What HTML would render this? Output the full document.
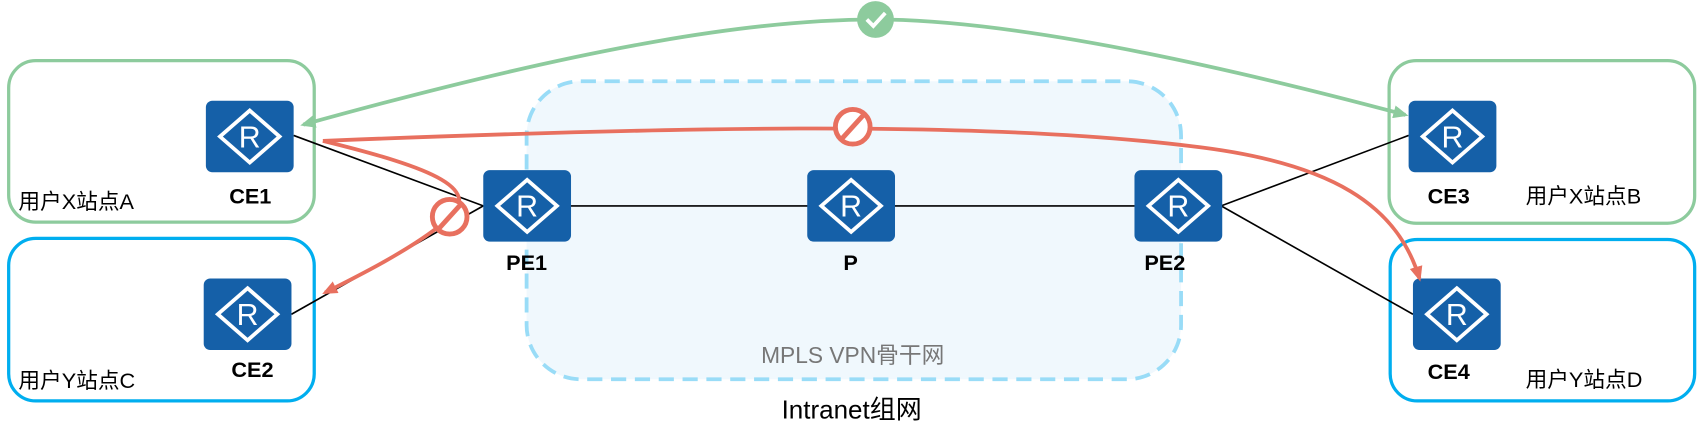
<!DOCTYPE html>
<html><head><meta charset="utf-8"><style>
html,body{margin:0;padding:0;background:#fff;}
svg{display:block;}
text{font-family:"Liberation Sans","Noto Sans CJK SC",sans-serif;}
.lb{font-weight:bold;font-size:20px;fill:#000;text-anchor:middle;}
.st{font-size:20px;fill:#000;}
</style></head><body>
<svg width="1699" height="446" viewBox="0 0 1568 411.6" preserveAspectRatio="none" xmlns="http://www.w3.org/2000/svg">
<defs>
<g id="r"><rect x="0" y="0" width="81" height="66" rx="6" fill="#1560a8"/>
<polygon points="40.5,9 68,33 40.5,57 13,33" fill="none" stroke="#fff" stroke-width="3.5"/>
<text x="40.5" y="43" font-size="28" fill="#fff" text-anchor="middle" style="font-family:'Liberation Sans',sans-serif">R</text></g>
<marker id="ag" markerWidth="14" markerHeight="12" refX="11" refY="6" orient="auto-start-reverse" markerUnits="userSpaceOnUse" viewBox="0 0 14 12"><path d="M0,0 L14,6 L0,12z" fill="#8dcb9d"/></marker>
<marker id="ar" markerWidth="14" markerHeight="12" refX="11" refY="6" orient="auto" markerUnits="userSpaceOnUse" viewBox="0 0 14 12"><path d="M0,0 L14,6 L0,12z" fill="#e8705f"/></marker>
</defs>
<rect x="486" y="75" width="604" height="275" rx="50" fill="#f0f8fd" stroke="#99dcf7" stroke-width="3.5" stroke-dasharray="14,8"/>
<rect x="8" y="56" width="282" height="149" rx="25" fill="none" stroke="#8dcb9d" stroke-width="3"/>
<rect x="8" y="220" width="282" height="150" rx="25" fill="none" stroke="#00aeef" stroke-width="3"/>
<rect x="1282" y="56" width="282" height="150" rx="25" fill="none" stroke="#8dcb9d" stroke-width="3"/>
<rect x="1283" y="221" width="281" height="149" rx="25" fill="none" stroke="#00aeef" stroke-width="3"/>
<g stroke="#000" stroke-width="1.5">
<line x1="271" y1="125" x2="446" y2="190"/><line x1="269" y1="290" x2="446" y2="190"/>
<line x1="526" y1="190" x2="1047" y2="190"/>
<line x1="1127" y1="190" x2="1300" y2="125"/><line x1="1127" y1="190" x2="1304" y2="290"/>
</g>
<use href="#r" x="190" y="93"/><use href="#r" x="188" y="257"/>
<use href="#r" x="446" y="157"/><use href="#r" x="745" y="157"/><use href="#r" x="1047" y="157"/>
<use href="#r" x="1300" y="93"/><use href="#r" x="1304" y="257"/>
<text class="lb" x="231" y="188">CE1</text><text class="lb" x="233" y="348">CE2</text>
<text class="lb" x="486" y="249">PE1</text><text class="lb" x="785" y="249">P</text><text class="lb" x="1075" y="249">PE2</text>
<text class="lb" x="1337" y="188">CE3</text><text class="lb" x="1337" y="350">CE4</text>
<text class="st" x="17" y="193">用户X站点A</text><text class="st" x="17" y="358">用户Y站点C</text>
<text class="st" x="1408" y="188">用户X站点B</text><text class="st" x="1408" y="357">用户Y站点D</text>
<text x="787" y="335" font-size="21" fill="#777" text-anchor="middle">MPLS VPN骨干网</text>
<text x="786" y="386" font-size="24" fill="#000" text-anchor="middle">Intranet组网</text>
<path d="M1297 106 C 1050 40, 900 18, 808 18 C 700 18, 550 40, 280 115" fill="none" stroke="#8dcb9d" stroke-width="3.5" marker-start="url(#ag)" marker-end="url(#ag)"/>
<path d="M298 130 C 600 118, 900 110, 1100 135 C 1230 150, 1290 190, 1310 257" fill="none" stroke="#e8705f" stroke-width="3.5" marker-end="url(#ar)"/>
<path d="M298 130 C 400 155, 450 175, 410 205 C 380 230, 330 255, 300 270" fill="none" stroke="#e8705f" stroke-width="3.5" marker-end="url(#ar)"/>
<circle cx="808" cy="18" r="17" fill="#8dcb9d"/>
<path d="M800 18 L806 24 L817 12" fill="none" stroke="#fff" stroke-width="3.5"/>
<g fill="#fff" stroke="#e8705f" stroke-width="4.5">
<circle cx="787" cy="117" r="16"/><line x1="777" y1="128" x2="797" y2="106"/>
<circle cx="415" cy="200" r="16"/><line x1="405" y1="211" x2="425" y2="189"/>
</g>
</svg>
</body></html>
